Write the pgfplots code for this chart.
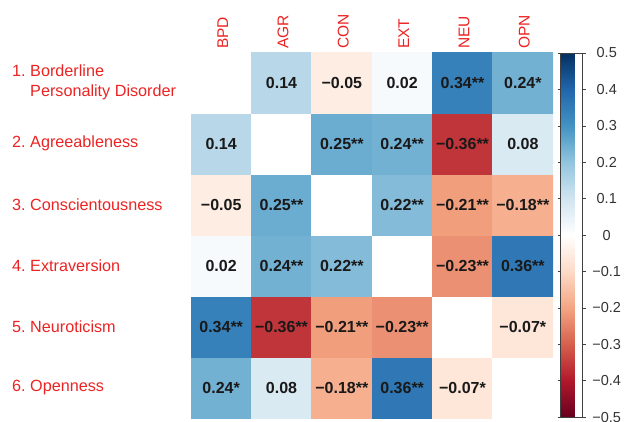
\documentclass[border=0pt]{standalone}
\usepackage{pgfplots}
\pgfplotsset{compat=1.18}
\usepackage{fontspec}
\setmainfont{Liberation Sans}
\definecolor{lab}{RGB}{235,35,35}
\begin{document}
\frenchspacing
\begin{tikzpicture}
\path[use as bounding box] (0,0) rectangle (628pt,421pt);
\begin{axis}[
  at={(191pt,3pt)}, anchor=south west,
  scale only axis, width=362pt, height=366pt,
  xmin=-0.5, xmax=5.5, ymin=-0.5, ymax=5.5,
  axis line style={draw=none},
  major tick length=0pt,
  xtick={0,...,5}, ytick={0,...,5},
  xticklabel pos=upper,
  xticklabels={BPD,AGR,CON,EXT,NEU,OPN},
  xticklabel style={xshift=1.5pt, yshift=3pt, rotate=90, anchor=west, inner sep=0pt, text=lab, font=\fontsize{15.5}{18}\selectfont},
  yticklabels={6. Openness, 5. Neuroticism, 4. Extraversion, 3. Conscientousness, 2. Agreeableness, {1. Borderline\\\hphantom{1. }Personality Disorder}},
  yticklabel style={anchor=west, align=left, inner sep=0pt, text=lab, font=\fontsize{16.2}{20}\selectfont, xshift=-179pt},
  colormap={rdbu}{rgb255(0)=(103,0,31); rgb255(1)=(178,24,43); rgb255(2)=(214,96,77); rgb255(3)=(244,165,130); rgb255(4)=(253,219,199); rgb255(5)=(255,255,255); rgb255(6)=(209,229,240); rgb255(7)=(146,197,222); rgb255(8)=(67,147,195); rgb255(9)=(33,102,172); rgb255(10)=(5,48,97)},
  point meta min=-0.5, point meta max=0.5,
  colorbar,
  colorbar style={
    at={(parent axis.north east)}, anchor=north west, xshift=-1pt, yshift=-1pt,
    scale only axis, width=22pt, height=364pt,
    axis line style={draw=black!75, line width=0.6pt},
    ytick={-0.5,-0.4,-0.3,-0.2,-0.1,0,0.1,0.2,0.3,0.4,0.5},
    yticklabels={−0.5,−0.4,−0.3,−0.2,−0.1,0,0.1,0.2,0.3,0.4,0.5},
    ytick align=outside, major tick length=3pt,
    tick style={draw=black!75, line width=0.6pt},
    yticklabel style={font=\fontsize{14.5}{14.5}\selectfont, text=black!80, anchor=west, inner sep=0pt, text width=30pt, align=center, xshift=6pt},
  },
]
\addplot[matrix plot*, mesh/cols=6, point meta=explicit] table[meta=c] {
x y c
0 0 0.24
1 0 0.08
2 0 -0.18
3 0 0.36
4 0 -0.07
5 0 0
0 1 0.34
1 1 -0.36
2 1 -0.21
3 1 -0.23
4 1 0
5 1 -0.07
0 2 0.02
1 2 0.24
2 2 0.22
3 2 0
4 2 -0.23
5 2 0.36
0 3 -0.05
1 3 0.25
2 3 0
3 3 0.22
4 3 -0.21
5 3 -0.18
0 4 0.14
1 4 0
2 4 0.25
3 4 0.24
4 4 -0.36
5 4 0.08
0 5 0
1 5 0.14
2 5 -0.05
3 5 0.02
4 5 0.34
5 5 0.24
};
\addplot[only marks, mark options={draw=none, fill=none}, nodes near coords, point meta=explicit symbolic,
  every node near coord/.append style={anchor=center, font=\bfseries\fontsize{16}{16}\selectfont, text=black!90}]
coordinates {
(1,5) [0.14] (2,5) [−0.05] (3,5) [0.02] (4,5) [0.34**] (5,5) [0.24*]
(0,4) [0.14] (2,4) [0.25**] (3,4) [0.24**] (4,4) [−0.36**] (5,4) [0.08]
(0,3) [−0.05] (1,3) [0.25**] (3,3) [0.22**] (4,3) [−0.21**] (5,3) [−0.18**]
(0,2) [0.02] (1,2) [0.24**] (2,2) [0.22**] (4,2) [−0.23**] (5,2) [0.36**]
(0,1) [0.34**] (1,1) [−0.36**] (2,1) [−0.21**] (3,1) [−0.23**] (5,1) [−0.07*]
(0,0) [0.24*] (1,0) [0.08] (2,0) [−0.18**] (3,0) [0.36**] (4,0) [−0.07*]
};
\end{axis}
\end{tikzpicture}
\end{document}
